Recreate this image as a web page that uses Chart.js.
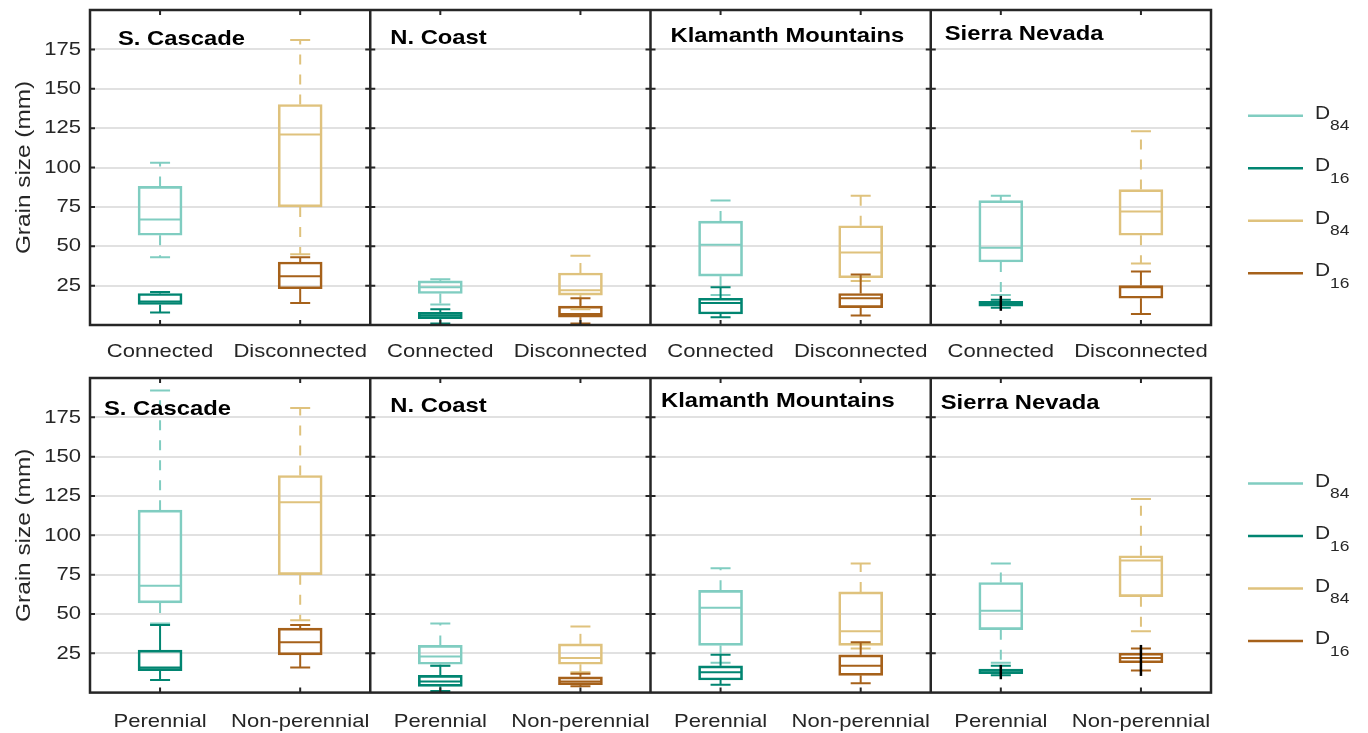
<!DOCTYPE html>
<html>
<head>
<meta charset="utf-8">
<title>Grain size by region</title>
<script src="https://cdn.jsdelivr.net/npm/chart.js@4.4.1/dist/chart.umd.min.js"></script>
<style>
  html, body { margin: 0; padding: 0; background: #ffffff; }
  canvas { display: block; }
</style>
</head>
<body>
<canvas id="connectivity" width="1368" height="366"></canvas>
<canvas id="flow" width="1368" height="367"></canvas>
<script>
// ---- data -------------------------------------------------------------
const regions = ['S. Cascade', 'N. Coast', 'Klamanth Mountains', 'Sierra Nevada'];
const connectivityGroups = ['Connected', 'Disconnected'];
const flowGroups = ['Perennial', 'Non-perennial'];
const yTickValues = [25, 50, 75, 100, 125, 150, 175];
const legendLabels = [['D', '84'], ['D', '16'], ['D', '84'], ['D', '16']];

// per region: [lower whisker, Q1, median, Q3, upper whisker] in mm
const connectedD84    = [[43, 57, 67, 88, 103], [13, 20, 24, 28, 29], [19, 31, 51, 66, 79], [19, 40, 49, 79, 82]];
const connectedD16    = [[8, 13, 15, 20, 21],   [1, 4, 6, 8, 10],     [5, 7, 14, 17, 24],   [11, 12, 13, 15, 16]];
const disconnectedD84 = [[45, 75, 121, 140, 181], [10, 19, 22, 33, 44], [28, 30, 46, 63, 82], [39, 57, 72, 86, 123]];
const disconnectedD16 = [[14, 23, 31, 40, 43],  [1, 5, 7, 12, 17],    [6, 11, 17, 20, 32],  [7, 17, 24, 25, 34]];

const perennialD84    = [[44, 57, 68, 116, 192], [17, 18, 23, 30, 44], [19, 30, 54, 65, 79], [19, 40, 52, 70, 82]];
const perennialD16    = [[8, 14, 16, 27, 43],   [1, 4, 7, 11, 17],    [5, 8, 13, 17, 24],   [11, 12, 14, 15, 17]];
const nonPerennialD84 = [[46, 75, 121, 138, 181], [13, 18, 22, 31, 42], [28, 30, 39, 64, 82], [39, 61, 84, 87, 123]];
const nonPerennialD16 = [[16, 24, 32, 41, 43],  [4, 5, 7, 10, 12],    [6, 11, 17, 24, 32],  [14, 19, 22, 25, 28]];

// black vertical range lines per region ([from, to] in mm, null where absent)
const connectedD16Range    = [null, null, null, [9, 18.5]];
const perennialD16Range    = [null, null, null, [8.5, 17.6]];
const nonPerennialD16Range = [null, null, null, [10.6, 30.3]];

// ---- styling ----------------------------------------------------------
const FONT = '"Liberation Sans", Arial, Helvetica, sans-serif';
const INK = '#262626';
const LIGHT_TEAL = '#80cdc1';
const DARK_TEAL = '#018571';
const GOLD = '#dfc27d';
const BROWN = '#a6611a';
const TEXT_WIDTH = 1.16;   // Helvetica-style glyphs set a little wide

// draw every text run horizontally widened around its anchor point
function widenGlyphs(ctx) {
  const fill = ctx.fillText;
  ctx.fillText = function (text, x, y) {
    this.save();
    this.translate(x, y);
    this.scale(TEXT_WIDTH, 1);
    fill.call(this, text, 0, 0);
    this.restore();
  };
}

// keep the plot area exactly where the layout puts it
function noScalePadding(scale) {
  scale.paddingTop = 0;
  scale.paddingBottom = 0;
  scale.paddingLeft = 0;
  scale.paddingRight = 0;
}

// whiskers, caps, medians and range lines on top of the box bars
const boxDetails = {
  id: 'boxDetails',
  afterDatasetsDraw(chart) {
    const { ctx, scales: { y } } = chart;
    const metas = chart.getSortedVisibleDatasetMetas().slice().reverse();
    ctx.save();
    ctx.lineCap = 'butt';
    metas.forEach(meta => {
      const ds = chart.data.datasets[meta.index];
      ds.stats.forEach((s, i) => {
        if (!s) return;
        const [lo, q1, med, q3, hi] = s;
        const bar = meta.data[i];
        const cx = bar.x;
        const half = bar.width / 2;
        ctx.strokeStyle = ds.borderColor;
        ctx.lineWidth = 2;
        ctx.setLineDash(ds.dashed ? [10, 10] : []);
        [[q3, hi], [q1, lo]].forEach(([from, to]) => {
          ctx.beginPath();
          ctx.moveTo(cx, y.getPixelForValue(from));
          ctx.lineTo(cx, y.getPixelForValue(to));
          ctx.stroke();
        });
        ctx.setLineDash([]);
        ctx.beginPath();
        [lo, hi].forEach(v => {
          const py = y.getPixelForValue(v);
          ctx.moveTo(cx - 10, py);
          ctx.lineTo(cx + 10, py);
        });
        const pm = y.getPixelForValue(med);
        ctx.moveTo(cx - half + 1, pm);
        ctx.lineTo(cx + half - 1, pm);
        ctx.stroke();
      });
    });
    metas.forEach(meta => {
      const ds = chart.data.datasets[meta.index];
      ds.ranges.forEach((r, i) => {
        if (!r) return;
        const cx = meta.data[i].x;
        ctx.strokeStyle = '#000000';
        ctx.lineWidth = 2.5;
        ctx.beginPath();
        ctx.moveTo(cx, y.getPixelForValue(r[0]));
        ctx.lineTo(cx, y.getPixelForValue(r[1]));
        ctx.stroke();
      });
    });
    ctx.restore();
  }
};

// panel frames, inward ticks, region titles and the legend
const panelFrame = {
  id: 'panelFrame',
  afterDraw(chart, args, opts) {
    const { ctx, chartArea: a, scales: { x, y } } = chart;
    const edges = [];
    for (let k = 0; k <= regions.length; k++) edges.push(x.getPixelForValue(k * 2 - 0.5));
    ctx.save();
    ctx.strokeStyle = INK;
    ctx.lineWidth = 2;
    ctx.beginPath();
    yTickValues.forEach(v => {
      const py = y.getPixelForValue(v);
      edges.forEach((ex, k) => {
        if (k > 0) { ctx.moveTo(ex - 5, py); ctx.lineTo(ex, py); }
        if (k < regions.length) { ctx.moveTo(ex, py); ctx.lineTo(ex + 5, py); }
      });
    });
    chart.data.labels.forEach((_, i) => {
      const px = x.getPixelForValue(i);
      ctx.moveTo(px, a.top); ctx.lineTo(px, a.top + 5);
      ctx.moveTo(px, a.bottom); ctx.lineTo(px, a.bottom - 5);
    });
    ctx.stroke();

    ctx.lineWidth = 2.5;
    ctx.strokeRect(a.left, a.top, a.right - a.left, a.bottom - a.top);
    ctx.beginPath();
    edges.slice(1, -1).forEach(ex => { ctx.moveTo(ex, a.top); ctx.lineTo(ex, a.bottom); });
    ctx.stroke();

    ctx.font = `bold 20.5px ${FONT}`;
    ctx.fillStyle = '#000000';
    ctx.textAlign = 'left';
    ctx.textBaseline = 'alphabetic';
    regions.forEach((name, r) => {
      const [dx, by] = opts.titleOffsets[r];
      ctx.fillText(name, edges[r] + dx, by);
    });

    const cy = (a.top + a.bottom) / 2 + opts.legendShift;
    chart.data.datasets.forEach((ds, i) => {
      const ly = cy + (i - 1.5) * 52.5;
      ctx.strokeStyle = ds.borderColor;
      ctx.lineWidth = 2.5;
      ctx.beginPath();
      ctx.moveTo(a.right + 37, ly);
      ctx.lineTo(a.right + 92, ly);
      ctx.stroke();
      const [main, sub] = legendLabels[i];
      ctx.fillStyle = INK;
      ctx.font = `18px ${FONT}`;
      ctx.fillText(main, a.right + 104, ly + 3);
      const w = ctx.measureText(main).width * TEXT_WIDTH;
      ctx.font = `15px ${FONT}`;
      ctx.fillText(sub, a.right + 104 + w, ly + 14.5);
    });
    ctx.restore();
  }
};

function buildChart(canvasId, groups, seriesList, frame) {
  const labels = [];
  regions.forEach(() => groups.forEach(g => labels.push(g)));
  const datasets = seriesList.map(s => {
    const data = labels.map(() => null);
    const stats = labels.map(() => null);
    const ranges = labels.map(() => null);
    s.values.forEach((v, r) => {
      const i = r * groups.length + s.group;
      data[i] = [v[1], v[3]];
      stats[i] = v;
      ranges[i] = s.ranges ? s.ranges[r] : null;
    });
    return {
      label: s.label, data, stats, ranges, dashed: s.dashed,
      borderColor: s.color, backgroundColor: 'rgba(0,0,0,0)',
      borderWidth: 2, borderSkipped: false, barThickness: 44,
      grouped: false, order: s.order
    };
  });

  const canvas = document.getElementById(canvasId);
  const ctx = canvas.getContext('2d');
  widenGlyphs(ctx);

  return new Chart(ctx, {
    type: 'bar',
    data: { labels, datasets },
    plugins: [boxDetails, panelFrame],
    options: {
      responsive: false,
      animation: false,
      devicePixelRatio: 1,
      layout: { padding: { top: frame.top, right: 157, bottom: 0, left: 0 } },
      plugins: {
        legend: { display: false },
        tooltip: { enabled: false },
        panelFrame: { titleOffsets: frame.titleOffsets, legendShift: 27 }
      },
      scales: {
        x: {
          type: 'category',
          offset: true,
          grid: { display: false, drawTicks: false },
          border: { display: false },
          ticks: {
            autoSkip: false, maxRotation: 0, minRotation: 0,
            color: INK, padding: frame.labelGap,
            font: { family: FONT, size: 19 }
          },
          afterFit: scale => { scale.height = frame.axisHeight; noScalePadding(scale); }
        },
        y: {
          type: 'linear',
          min: 0, max: 200,
          afterBuildTicks: scale => { scale.ticks = yTickValues.map(v => ({ value: v })); },
          grid: { color: '#e1e1e1', lineWidth: 2, drawTicks: false },
          border: { display: false },
          ticks: { color: INK, padding: 9, font: { family: FONT, size: 19 } },
          title: {
            display: true, text: 'Grain size (mm)', color: INK,
            font: { family: FONT, size: 21 }, padding: { top: 12, bottom: 0 }
          },
          afterFit: scale => { scale.width = 90; noScalePadding(scale); }
        }
      }
    }
  });
}

buildChart('connectivity', connectivityGroups, [
  { label: 'D84', group: 0, values: connectedD84, color: LIGHT_TEAL, dashed: true, order: 1 },
  { label: 'D16', group: 0, values: connectedD16, ranges: connectedD16Range, color: DARK_TEAL, dashed: false, order: 0 },
  { label: 'D84', group: 1, values: disconnectedD84, color: GOLD, dashed: true, order: 1 },
  { label: 'D16', group: 1, values: disconnectedD16, color: BROWN, dashed: false, order: 0 }
], {
  top: 10, axisHeight: 41, labelGap: 15,
  titleOffsets: [[28, 45], [20, 43.5], [20, 41.5], [14, 39.5]]
});

buildChart('flow', flowGroups, [
  { label: 'D84', group: 0, values: perennialD84, color: LIGHT_TEAL, dashed: true, order: 1 },
  { label: 'D16', group: 0, values: perennialD16, ranges: perennialD16Range, color: DARK_TEAL, dashed: false, order: 0 },
  { label: 'D84', group: 1, values: nonPerennialD84, color: GOLD, dashed: true, order: 1 },
  { label: 'D16', group: 1, values: nonPerennialD16, ranges: nonPerennialD16Range, color: BROWN, dashed: false, order: 0 }
], {
  top: 12, axisHeight: 40.4, labelGap: 18,
  titleOffsets: [[14, 49], [20, 45.5], [10.5, 40.5], [10, 43]]
});
</script>
</body>
</html>
